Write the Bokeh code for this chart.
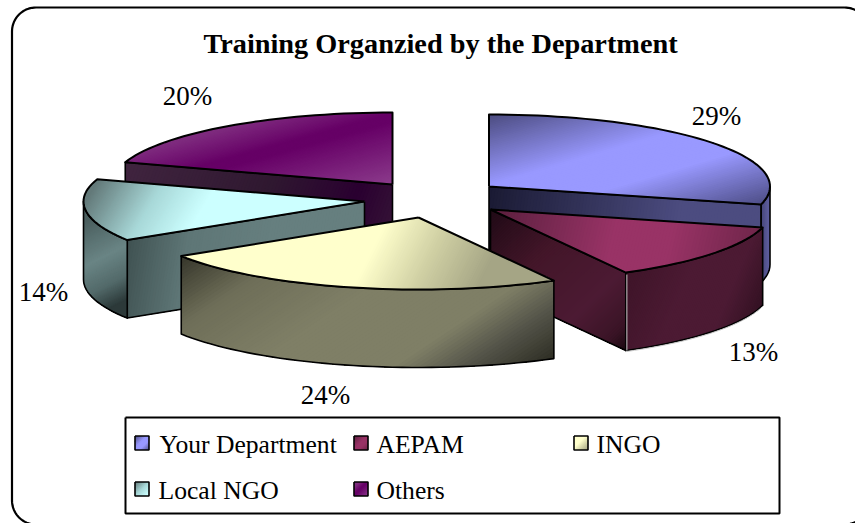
import math
from bokeh.plotting import figure
from bokeh.models import Range1d
from bokeh.core.properties import value
from bokeh.embed import file_html
from bokeh.resources import INLINE

# ---- data ----
title_text = "Training Organzied by the Department"
categories = ["Your Department", "AEPAM", "INGO", "Local NGO", "Others"]
shares = [29, 13, 24, 14, 20]
share_labels = ["29%", "13%", "24%", "14%", "20%"]

# ---- layout (pixels of the page) ----
W, H = 855, 523
RX, RY, DEPTH = 281, 72, 78
apexes = [(488.5, 186), (490, 209), (418, 217), (364, 201), (392, 184)]
label_pos = [(716, 115), (753, 351), (325, 394), (43, 291), (187, 95)]
legend_box = (125, 417, 779, 513)
legend_swatch = [(134.5, 435.5), (353.5, 435.5), (573.5, 435.5), (134.5, 481.5), (353.5, 481.5)]
legend_text = [(159, 444), (376, 444), (596, 444), (158, 490), (376, 490)]
frame = (11.5, 7, 868, 524, 24)
font = value("Liberation Serif")

# gradient styles: (p0, p1, stops)
styles = [
    dict(top=((489, 114), (534.5, 269), [(0, "#4c4c80"), (.42, "#9999ff"), (.65, "#9999ff"), (1, "#50508a")]),
         face=((489, 186), (762, 225), [(0, "#1a1a33"), (.7, "#4c4c80"), (1, "#4c4c80")]),
         arc=((762, 240), (772, 240), [(0, "#4c4c80"), (1, "#6a6ab0")])),
    dict(top=((490, 209), (762, 272), [(0, "#5a1e3c"), (.2, "#752850"), (.45, "#993366"), (.65, "#993366"), (1, "#6a2446")]),
         face=((490, 209), (625, 350), [(0, "#200a16"), (.35, "#431629"), (.7, "#4c1a33"), (.9, "#3a1426"), (1, "#1a0810")]),
         arc=((625, 272), (762, 330), [(0, "#3e1428"), (.4, "#4c1a33"), (.7, "#4c1a33"), (1, "#2c0f1e")])),
    dict(top=((300, 210), (474, 297), [(0, "#ffffcc"), (.42, "#ffffcc"), (.7, "#d0d0a4"), (1, "#a4a484")]),
         face=((0, 0), (1, 1), [(0, "#7f7f66"), (1, "#7f7f66")]),
         arc=((180, 256), (342, 499), [(0, "#35352a"), (.2, "#6e6e58"), (.45, "#7f7f66"), (.72, "#7f7f66"), (.85, "#55554a"), (1, "#2e2e24")])),
    dict(top=((98, 177), (198, 237), [(0, "#627878"), (.5, "#a8d8d8"), (.9, "#ccffff"), (1, "#ccffff")]),
         face=((126, 240), (364, 279), [(0, "#3f5151"), (.25, "#5e7676"), (.6, "#667f7f"), (1, "#667f7f")]),
         arc=((85, 220), (126, 300), [(0, "#4a5e5e"), (.45, "#6a8585"), (.75, "#536a6a"), (1, "#2b3838")])),
    dict(top=((200, 110), (232.5, 228), [(0, "#7f3a7f"), (.2, "#7e2a7e"), (.44, "#660066"), (.5, "#660066"), (1, "#8c3c8c")]),
         face=((126, 161), (392, 262), [(0, "#40243f"), (.5, "#2f1830"), (.8, "#2a0030"), (1, "#381838")]),
         arc=((0, 0), (1, 1), [(0, "#333333"), (1, "#333333")])),
]


def hex2rgb(c):
    return tuple(int(c[i:i + 2], 16) for i in (1, 3, 5))


def ramp(stops, t):
    t = max(0, min(1, t))
    for (a, ca), (b, cb) in zip(stops, stops[1:]):
        if t <= b:
            f = 0 if b == a else (t - a) / (b - a)
            ra, rb = hex2rgb(ca), hex2rgb(cb)
            return "#%02x%02x%02x" % tuple(round(x + (y - x) * f) for x, y in zip(ra, rb))
    return stops[-1][1]


def clip(poly, p0, d, t0):
    """keep the part of poly with projection >= t0"""
    dd = d[0] ** 2 + d[1] ** 2
    val = [((x - p0[0]) * d[0] + (y - p0[1]) * d[1]) / dd - t0 for x, y in poly]
    out = []
    for i, pt in enumerate(poly):
        j = (i + 1) % len(poly)
        if val[i] >= 0:
            out.append(pt)
        if (val[i] >= 0) != (val[j] >= 0):
            f = val[i] / (val[i] - val[j])
            out.append((pt[0] + (poly[j][0] - pt[0]) * f, pt[1] + (poly[j][1] - pt[1]) * f))
    return out


def gradient(poly, style, n=90):
    p0, p1, stops = style
    d = (p1[0] - p0[0], p1[1] - p0[1])
    xs, ys, cs = [], [], []
    for i in range(n):
        part = poly if i == 0 else clip(poly, p0, d, i / n)
        if len(part) < 3:
            continue
        xs.append([q[0] for q in part])
        ys.append([q[1] for q in part])
        cs.append(ramp(stops, (i + .5) / n))
    return xs, ys, cs


p = figure(width=W, height=H, x_range=Range1d(0, W), y_range=Range1d(H, 0),
           output_backend="svg", toolbar_location=None, min_border=0,
           outline_line_color=None, background_fill_color="white")
p.axis.visible = False
p.grid.visible = False

# rounded frame
x0, y0, x1, y1, r = frame
fx, fy = [], []
for cx, cy, a0 in [(x1 - r, y0 + r, -90), (x1 - r, y1 - r, 0), (x0 + r, y1 - r, 90), (x0 + r, y0 + r, 180)]:
    for k in range(21):
        a = math.radians(a0 + 90 * k / 20)
        fx.append(cx + r * math.cos(a))
        fy.append(cy + r * math.sin(a))
fx.append(fx[0]); fy.append(fy[0])
p.line(fx, fy, line_color="#000000", line_width=2.2)


def rim(ax, ay, t):
    a = math.radians(t)
    return ax + RX * math.sin(a), ay - RY * math.cos(a)


def arc_pts(ax, ay, t0, t1, dy=0):
    n = max(2, int(abs(t1 - t0) / 2))
    return [(rim(ax, ay, t0 + (t1 - t0) * k / n)[0], rim(ax, ay, t0 + (t1 - t0) * k / n)[1] + dy) for k in range(n + 1)]


total = sum(shares)
bounds = [0]
for s in shares:
    bounds.append(bounds[-1] + 360 * s / total)

# painter's order: back to front
for idx in [4, 0, 3, 1, 2]:
    ax, ay = apexes[idx]
    t0, t1 = bounds[idx], bounds[idx + 1]
    st = styles[idx]
    faces = []
    if math.cos(math.radians(t0 - 90)) < -1e-6:
        q = rim(ax, ay, t0)
        faces.append(([(ax, ay), q, (q[0], q[1] + DEPTH), (ax, ay + DEPTH)], st["face"]))
    if math.cos(math.radians(t1 + 90)) < -1e-6:
        q = rim(ax, ay, t1)
        faces.append(([(ax, ay), q, (q[0], q[1] + DEPTH), (ax, ay + DEPTH)], st["face"]))
    a0, a1 = max(t0, 90), min(t1, 270)
    if a1 > a0:
        faces.append((arc_pts(ax, ay, a0, a1) + arc_pts(ax, ay, a1, a0, DEPTH), st["arc"]))
    top = [(ax, ay)] + arc_pts(ax, ay, t0, t1)
    for poly, sty in faces:
        xs, ys, cs = gradient(poly, sty)
        p.patches(xs, ys, fill_color=cs, line_color=None)
        p.line([q[0] for q in poly] + [poly[0][0]], [q[1] for q in poly] + [poly[0][1]],
               line_color="#000000", line_width=1.6, line_join="round")
    if idx == 1:
        # pale highlight along the lower rim and the corner of this slice
        low = arc_pts(ax, ay, t1, a0, DEPTH + 1)
        p.line([q[0] for q in low], [q[1] for q in low], line_color="#c8c8c8", line_width=1)
        q = rim(ax, ay, t1)
        p.line([q[0] + 1, q[0] + 1], [q[1] + 2, q[1] + DEPTH], line_color="#c8c8c8", line_width=1)
    xs, ys, cs = gradient(top, st["top"])
    p.patches(xs, ys, fill_color=cs, line_color=None)
    p.line([q[0] for q in top] + [ax], [q[1] for q in top] + [ay],
           line_color="#000000", line_width=2, line_join="round")

# percentage labels
p.text([q[0] for q in label_pos], [q[1] for q in label_pos], text=share_labels,
       text_font=font, text_font_size="27px", text_color="#000000",
       text_align="center", text_baseline="middle")

# title
p.text([440], [42.5], text=[title_text], text_font=font, text_font_size="28.3px",
       text_font_style="bold", text_color="#000000", text_align="center", text_baseline="middle")

# legend
lx0, ly0, lx1, ly1 = legend_box
p.line([lx0, lx1, lx1, lx0, lx0], [ly0, ly0, ly1, ly1, ly0], line_color="#000000", line_width=2)
for (sx, sy), st in zip(legend_swatch, styles):
    box = [(sx, sy), (sx + 14, sy), (sx + 14, sy + 14), (sx, sy + 14)]
    stops = st["top"][2]
    xs, ys, cs = gradient(box, ((sx, sy), (sx + 14, sy + 14), stops), n=16)
    p.patches(xs, ys, fill_color=cs, line_color=None)
    p.line([sx, sx + 14, sx + 14, sx, sx], [sy, sy, sy + 14, sy + 14, sy], line_color="#000000", line_width=1.6)
p.text([q[0] for q in legend_text], [q[1] for q in legend_text], text=categories,
       text_font=font, text_font_size="25.6px", text_color="#000000",
       text_align="left", text_baseline="middle")

open("out.html", "w").write(file_html(p, INLINE))
